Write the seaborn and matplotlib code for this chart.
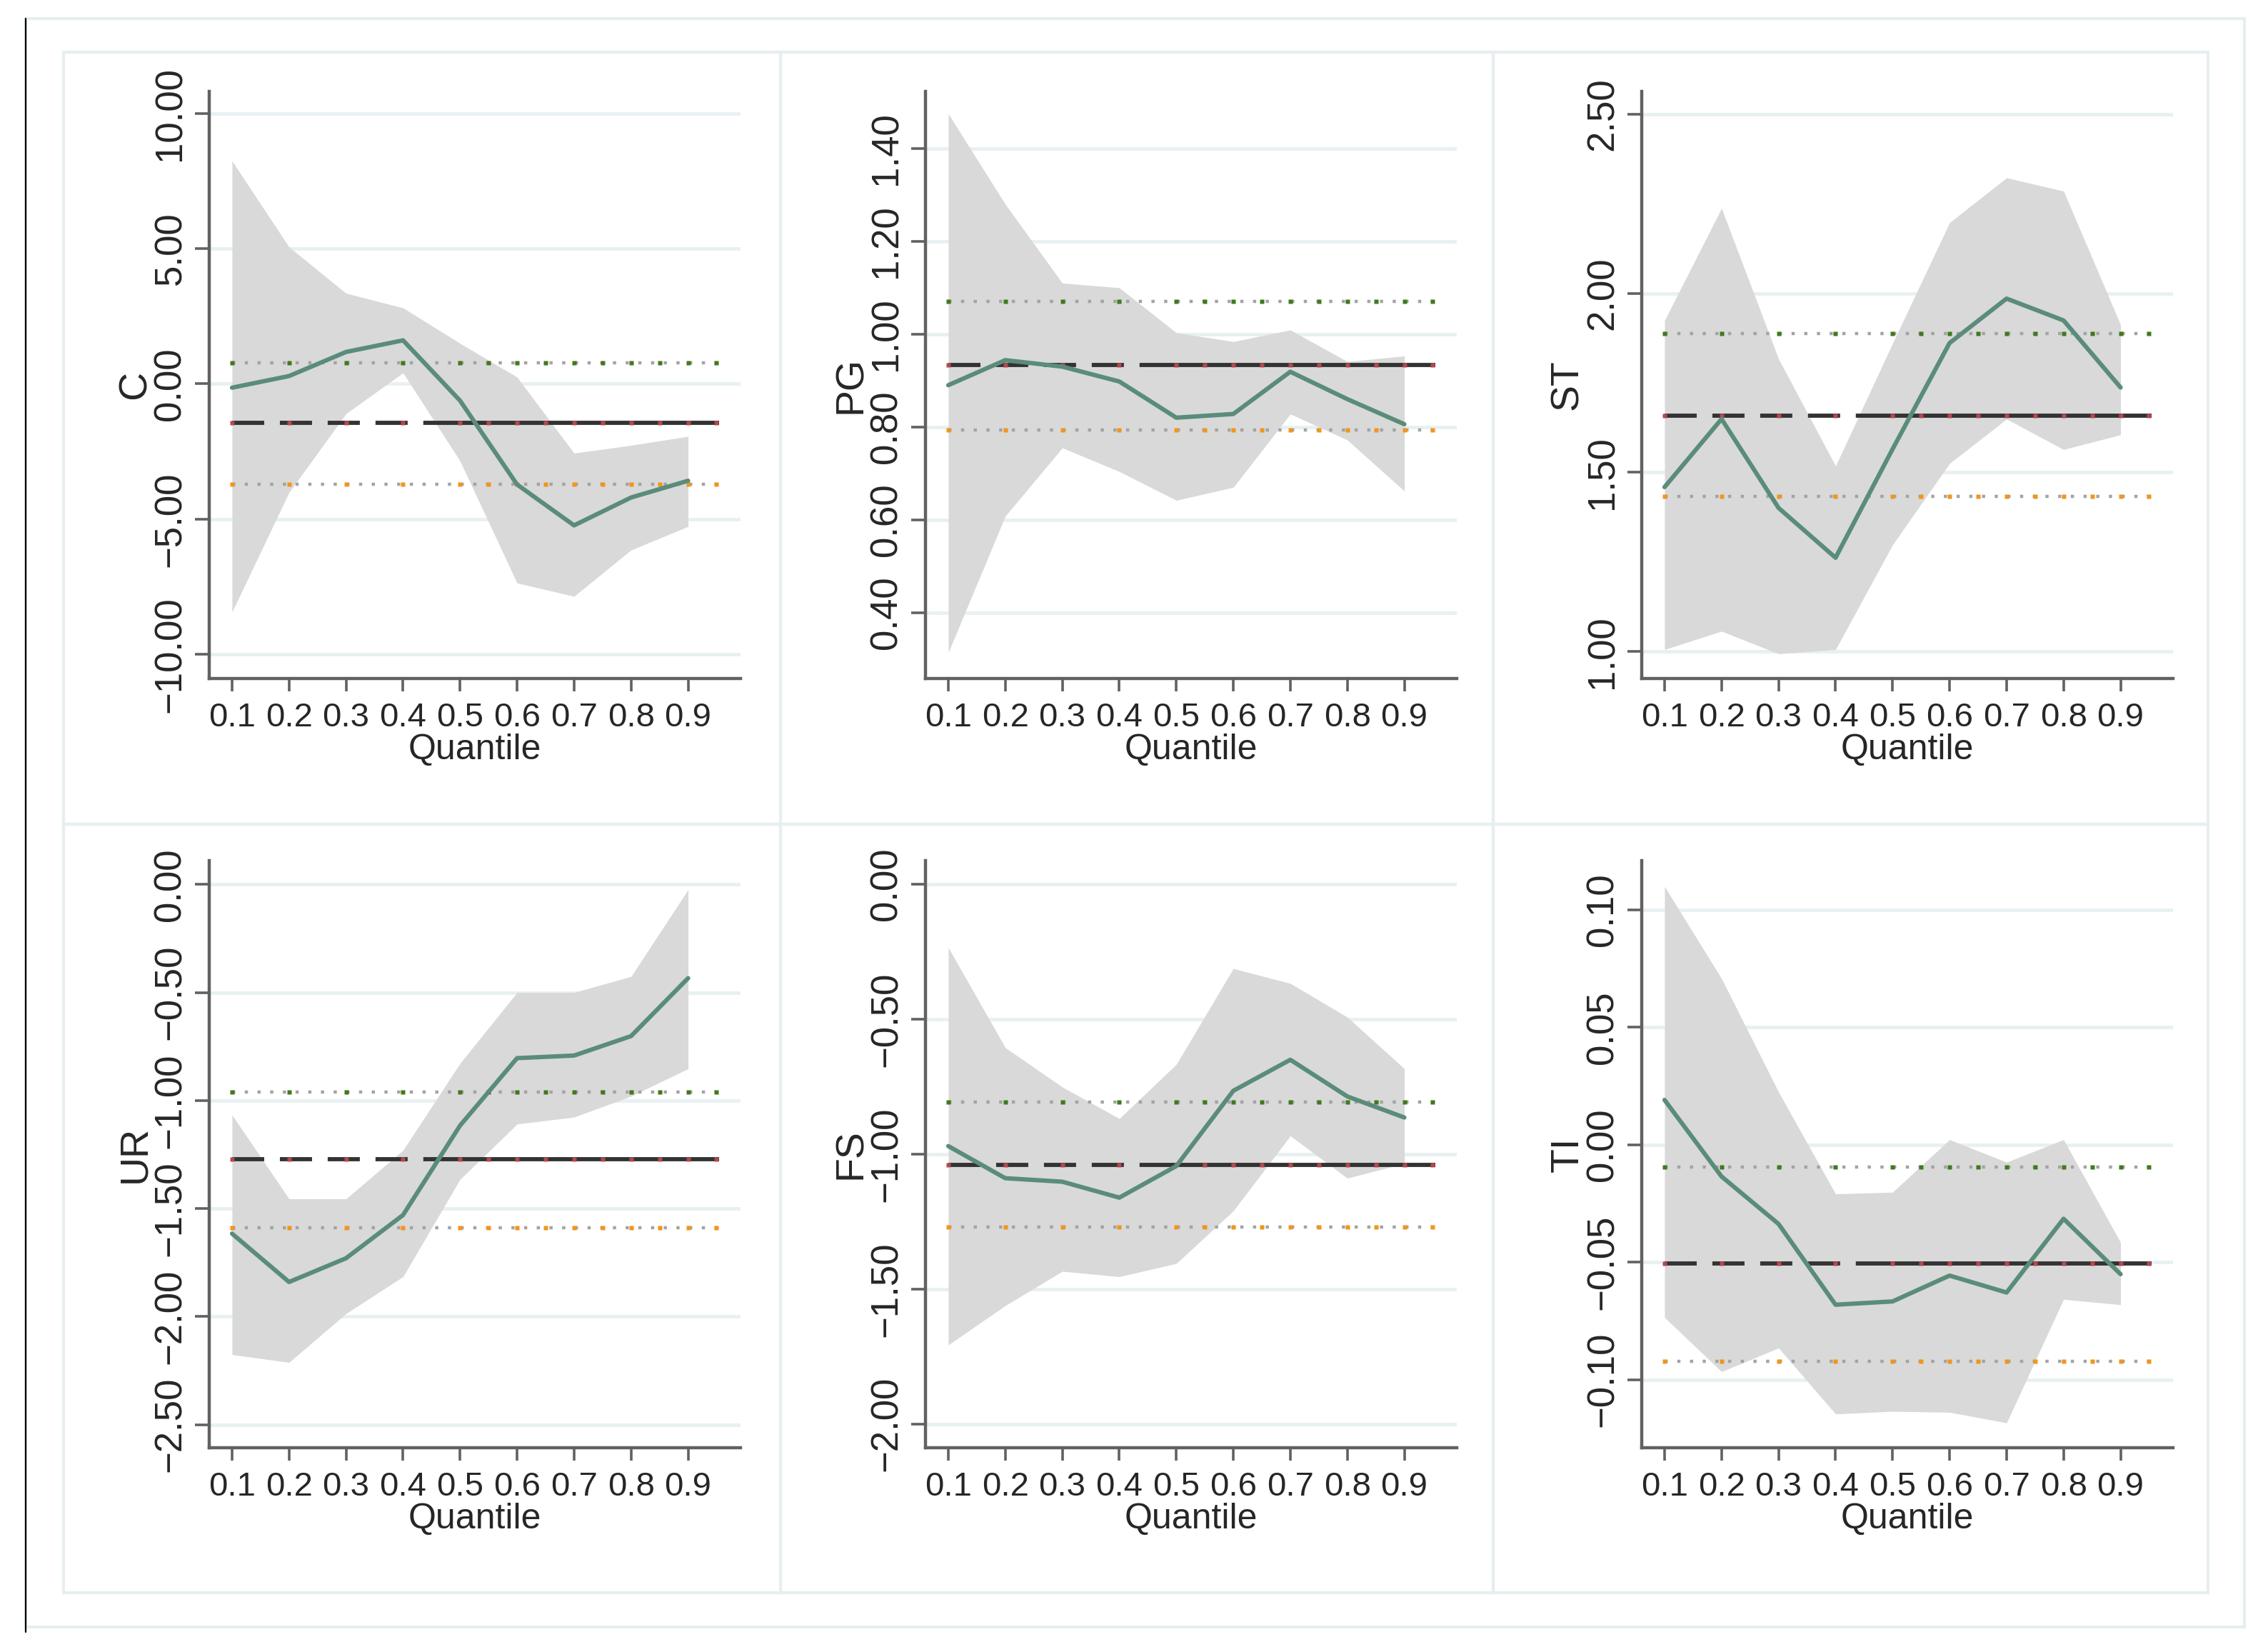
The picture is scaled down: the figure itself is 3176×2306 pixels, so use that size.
import numpy as np
import matplotlib
matplotlib.use("Agg")
import matplotlib.pyplot as plt
import seaborn as sns
from matplotlib import font_manager
from matplotlib.patches import Rectangle
from matplotlib.lines import Line2D
from matplotlib.ticker import FuncFormatter, FixedLocator

# ---- data (quantile regression vs OLS) ----
QUANTILES = [0.1, 0.2, 0.3, 0.4, 0.5, 0.6, 0.7, 0.8, 0.9]
OLS_MARKS = [0.1, 0.2, 0.3, 0.4, 0.5, 0.55, 0.6, 0.65, 0.7, 0.75, 0.8, 0.85, 0.9, 0.95]

VARIABLES = ["C", "PG", "ST", "UR", "FS", "TI"]

C_COEF = [-0.14, 0.29, 1.18, 1.61, -0.62, -3.72, -5.23, -4.20, -3.58]
C_HIGH = [8.24, 5.06, 3.35, 2.81, 1.50, 0.25, -2.56, -2.27, -1.94]
C_LOW = [-8.43, -4.01, -1.10, 0.41, -2.85, -7.36, -7.85, -6.14, -5.27]

PG_COEF = [0.890, 0.944, 0.930, 0.898, 0.820, 0.828, 0.919, 0.860, 0.806]
PG_HIGH = [1.475, 1.280, 1.110, 1.100, 1.003, 0.984, 1.009, 0.941, 0.953]
PG_LOW = [0.314, 0.608, 0.755, 0.704, 0.642, 0.670, 0.828, 0.772, 0.662]

ST_COEF = [1.459, 1.649, 1.401, 1.262, 1.565, 1.861, 1.985, 1.924, 1.737]
ST_HIGH = [1.924, 2.237, 1.817, 1.518, 1.860, 2.197, 2.322, 2.285, 1.912]
ST_LOW = [1.006, 1.057, 0.994, 1.006, 1.298, 1.525, 1.649, 1.564, 1.605]

UR_COEF = [-1.616, -1.840, -1.730, -1.530, -1.116, -0.804, -0.792, -0.702, -0.434]
UR_HIGH = [-1.067, -1.455, -1.455, -1.230, -0.828, -0.500, -0.500, -0.426, -0.024]
UR_LOW = [-2.176, -2.212, -1.986, -1.815, -1.365, -1.109, -1.077, -0.980, -0.853]

FS_COEF = [-0.970, -1.089, -1.102, -1.161, -1.044, -0.765, -0.650, -0.786, -0.864]
FS_HIGH = [-0.234, -0.605, -0.751, -0.868, -0.667, -0.312, -0.367, -0.492, -0.683]
FS_LOW = [-1.707, -1.561, -1.434, -1.454, -1.405, -1.210, -0.932, -1.089, -1.034]

TI_COEF = [0.0191, -0.0135, -0.0337, -0.0681, -0.0667, -0.0557, -0.0629, -0.0315, -0.0551]
TI_HIGH = [0.1100, 0.0708, 0.0225, -0.0209, -0.0202, 0.0022, -0.0074, 0.0022, -0.0416]
TI_LOW = [-0.0735, -0.0966, -0.0865, -0.1146, -0.1135, -0.1139, -0.1184, -0.0658, -0.0681]

# OLS estimate and its confidence bounds, one per variable
OLS_COEF = [-1.45, 0.933, 1.659, -1.272, -1.039, -0.0506]
OLS_HIGH = [0.78, 1.071, 1.887, -0.960, -0.806, -0.0094]
OLS_LOW = [-3.72, 0.794, 1.433, -1.589, -1.270, -0.0921]

COEFS = [C_COEF, PG_COEF, ST_COEF, UR_COEF, FS_COEF, TI_COEF]
HIGHS = [C_HIGH, PG_HIGH, ST_HIGH, UR_HIGH, FS_HIGH, TI_HIGH]
LOWS = [C_LOW, PG_LOW, ST_LOW, UR_LOW, FS_LOW, TI_LOW]

# axis ranges and ticks per panel
YLIMS = [(-10.89, 10.81), (0.258, 1.523), (0.925, 2.563),
         (-2.607, 0.11), (-2.088, 0.088), (-0.129, 0.121)]
YTICKS = [[-10, -5, 0, 5, 10], [0.4, 0.6, 0.8, 1.0, 1.2, 1.4], [1.0, 1.5, 2.0, 2.5],
          [-2.5, -2.0, -1.5, -1.0, -0.5, 0.0], [-2.0, -1.5, -1.0, -0.5, 0.0],
          [-0.10, -0.05, 0.0, 0.05, 0.10]]

# ---- style ----
sns.set_style("white")
installed = {f.name for f in font_manager.fontManager.ttflist}
FAMILY = [f for f in ["Liberation Sans Narrow", "Liberation Sans", "DejaVu Sans"] if f in installed]
NARROW = FAMILY[0] == "Liberation Sans Narrow"
plt.rcParams["font.family"] = FAMILY
plt.rcParams["lines.scale_dashes"] = False
plt.rcParams["axes.unicode_minus"] = True

# text sizes (narrow face can be set a bit larger)
YTICK_SIZE = 43 if NARROW else 38
XTICK_SIZE = 37 if NARROW else 34
YLABEL_SIZE = 42 if NARROW else 40
XLABEL_SIZE = 40 if NARROW else 36

W, H = 3176, 2306
DPI = 100
GREEN_LINE = "#5a8c7a"
BAND = "#d9d9d9"
GRID = "#e8f1f2"
SPINE = "#616161"
FRAME = "#e6eff0"
DOT_GRAY = "#a3a3a3"
UP_MARK = "#3f7a1c"
LO_MARK = "#f3951c"
RED_MARK = "#b5474f"

fig = plt.figure(figsize=(W / DPI, H / DPI), dpi=DPI)
fig.patch.set_facecolor("white")

# outer frame, panel frames and the left black rule
fig.add_artist(Rectangle((36 / W, 1 - 2278 / H), (3143 - 36) / W, (2278 - 26) / H,
                         transform=fig.transFigure, fill=False, ec=FRAME, lw=3))
col_edges = [89, 1093, 2091, 3092]
row_edges = [73, 1154, 2230]
for r in range(2):
    for c in range(3):
        x0, x1 = col_edges[c], col_edges[c + 1]
        y0, y1 = row_edges[r], row_edges[r + 1]
        fig.add_artist(Rectangle((x0 / W, 1 - y1 / H), (x1 - x0) / W, (y1 - y0) / H,
                                 transform=fig.transFigure, fill=False, ec=FRAME, lw=3))
fig.add_artist(Line2D([36 / W, 36 / W], [1 - 26 / H, 1 - 2285 / H], color="black", lw=1.6))

axes_left = [293, 1296, 2299]
axes_top = [128, 1205]
ax_w, ax_h = 744, 822

fmt = FuncFormatter(lambda v, p: f"{v:.2f}".replace("-", "\u2212"))

for i, name in enumerate(VARIABLES):
    r, c = divmod(i, 3)
    left = axes_left[c] / W
    bottom = 1 - (axes_top[r] + ax_h) / H
    ax = fig.add_axes([left, bottom, ax_w / W, ax_h / H])

    # confidence band of the quantile estimates
    ax.fill_between(QUANTILES, LOWS[i], HIGHS[i], color=BAND, lw=0, zorder=1)

    # OLS confidence bounds: gray dotted with coloured markers
    for val, mcol in [(OLS_HIGH[i], UP_MARK), (OLS_LOW[i], LO_MARK)]:
        ax.plot([0.1, 0.95], [val, val], color=DOT_GRAY, lw=3.2,
                dashes=(3.2, 9.6), dash_capstyle="butt", zorder=2)
        ax.plot(OLS_MARKS, [val] * len(OLS_MARKS), ls="none", marker="s",
                ms=5.0, mfc=mcol, mec="none", zorder=3)

    # OLS estimate: dashed, then solid where the points get dense
    ols = OLS_COEF[i]
    ax.plot([0.1, 0.44], [ols, ols], color="#333333", lw=4.2,
            dashes=(32.4, 15.8), dash_capstyle="butt", zorder=3)
    ax.plot([0.44, 0.955], [ols, ols], color="#333333", lw=4.2,
            solid_capstyle="butt", zorder=3)
    ax.plot(OLS_MARKS, [ols] * len(OLS_MARKS), ls="none", marker="s",
            ms=4.2, mfc=RED_MARK, mec="none", zorder=4)

    sns.lineplot(x=QUANTILES, y=COEFS[i], ax=ax, color=GREEN_LINE, lw=4.4, zorder=5)

    ax.set_xlim(0.06, 0.992)
    ax.set_ylim(*YLIMS[i])
    ax.xaxis.set_major_locator(FixedLocator(QUANTILES))
    ax.set_xticklabels([f"{q:.1f}" for q in QUANTILES])
    ax.yaxis.set_major_locator(FixedLocator(YTICKS[i]))
    ax.yaxis.set_major_formatter(fmt)

    ax.grid(axis="y", color=GRID, lw=3.5)
    ax.grid(axis="x", visible=False)
    ax.set_axisbelow(True)
    for side in ["top", "right"]:
        ax.spines[side].set_visible(False)
    for side in ["left", "bottom"]:
        ax.spines[side].set_color(SPINE)
        ax.spines[side].set_linewidth(3.2)

    ax.tick_params(axis="y", direction="out", length=14.4, width=2.6, color=SPINE,
                   pad=6.5, labelsize=YTICK_SIZE, labelrotation=90, left=True)
    ax.tick_params(axis="x", direction="out", length=13, width=2.6, color=SPINE,
                   pad=11, labelsize=XTICK_SIZE, bottom=True)
    for tk in ax.yaxis.get_major_ticks():
        tk.label1.set_verticalalignment("center")

    ax.set_ylabel(name, fontsize=YLABEL_SIZE, labelpad=-1)
    ax.set_xlabel("Quantile", fontsize=XLABEL_SIZE, labelpad=0)

fig.savefig("out.png", dpi=DPI, facecolor="white")
